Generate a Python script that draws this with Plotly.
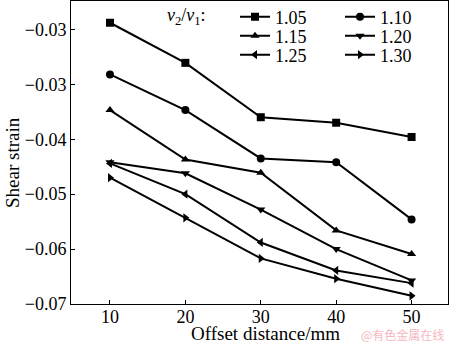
import plotly.graph_objects as go

# Offset distance (mm) and shear strain for each velocity ratio v2/v1
offset_mm = [10, 20, 30, 40, 50]
ratios = ["1.05", "1.10", "1.15", "1.20", "1.25", "1.30"]
strain_105 = [-0.0188, -0.0261, -0.0360, -0.0370, -0.0396]
strain_110 = [-0.0282, -0.0347, -0.0435, -0.0442, -0.0546]
strain_115 = [-0.0347, -0.0437, -0.0461, -0.0566, -0.0609]
strain_120 = [-0.0442, -0.0462, -0.0528, -0.0600, -0.0657]
strain_125 = [-0.0444, -0.0500, -0.0588, -0.0639, -0.0662]
strain_130 = [-0.0470, -0.0543, -0.0617, -0.0654, -0.0685]
series = [strain_105, strain_110, strain_115, strain_120, strain_125, strain_130]
symbols = ["square", "circle", "triangle-up", "triangle-down", "triangle-left", "triangle-right"]

# y tick values and their printed labels
y_tickvals = [-0.02, -0.03, -0.04, -0.05, -0.06, -0.07]
y_ticktext = ["\u22120.03", "\u22120.03", "\u22120.04", "\u22120.05", "\u22120.06", "\u22120.07"]
x_tickvals = [10, 20, 30, 40, 50]

FONT = "Liberation Serif"

W, H = 450, 344
L, R, T, B = 71, 2, 1, 40
pw, ph = W - L - R, H - T - B


def px_x(px):
    return (px - L) / pw


def px_y(py):
    return (H - B - py) / ph


# legend grid: two columns, three rows (pixel anchors)
col_x = [235, 340]
row_y = [17, 36, 55]

fig = go.Figure()
legend_layout = {}
for i, (name, ys, sym) in enumerate(zip(ratios, series, symbols)):
    key = "legend" if i == 0 else f"legend{i + 1}"
    fig.add_trace(go.Scatter(
        x=offset_mm, y=ys, name=name, mode="lines+markers",
        line=dict(color="black", width=2),
        marker=dict(symbol=sym, size=8, color="black"),
        legend=key,
    ))
    legend_layout[key] = dict(
        x=px_x(col_x[i % 2]), y=px_y(row_y[i // 2]),
        xanchor="left", yanchor="middle", orientation="v",
        font=dict(family=FONT, size=18, color="black"),
        bgcolor="rgba(0,0,0,0)", borderwidth=0,
        itemclick=False,
    )

fig.update_layout(
    width=W, height=H,
    margin=dict(l=L, r=R, t=T, b=B, pad=0, autoexpand=False),
    paper_bgcolor="white", plot_bgcolor="white",
    font=dict(family=FONT, size=18, color="black"),
    showlegend=True,
    xaxis=dict(
        range=[4.83, 54.83], tickvals=x_tickvals,
        ticks="inside", ticklen=4, tickcolor="black", tickwidth=1,
        showline=True, linecolor="black", linewidth=1, mirror=True,
        showgrid=False, zeroline=False, ticklabelstandoff=-4,
        tickfont=dict(family=FONT, size=18, color="black"),
    ),
    yaxis=dict(
        range=[-0.07, -0.01484], tickvals=y_tickvals, ticktext=y_ticktext,
        ticks="inside", ticklen=4, tickcolor="black", tickwidth=1,
        showline=True, linecolor="black", linewidth=1, mirror=True,
        showgrid=False, zeroline=False,
        tickfont=dict(family=FONT, size=18, color="black"),
    ),
    annotations=[
        dict(text="<i>v</i><sub>2</sub>/<i>v</i><sub>1</sub>:",
             xref="paper", yref="paper", x=px_x(165), y=px_y(row_y[0]),
             xanchor="left", yanchor="middle", showarrow=False,
             font=dict(family=FONT, size=18, color="black")),
        dict(text="Offset distance/mm", xref="paper", yref="paper",
             x=px_x(265), y=px_y(333), xanchor="center", yanchor="middle",
             showarrow=False, font=dict(family=FONT, size=19, color="black")),
        dict(text="Shear strain", xref="paper", yref="paper",
             x=px_x(12), y=px_y(163), xanchor="center", yanchor="middle",
             textangle=-90, showarrow=False,
             font=dict(family=FONT, size=19, color="black")),
        dict(text="@有色金属在线", xref="paper", yref="paper",
             x=px_x(446), y=px_y(334), xanchor="right", yanchor="middle",
             showarrow=False,
             font=dict(family="Noto Sans CJK SC", size=12, color="#f5b7c0")),
    ],
)
fig.update_layout(**legend_layout)

fig.write_html("out.html")
